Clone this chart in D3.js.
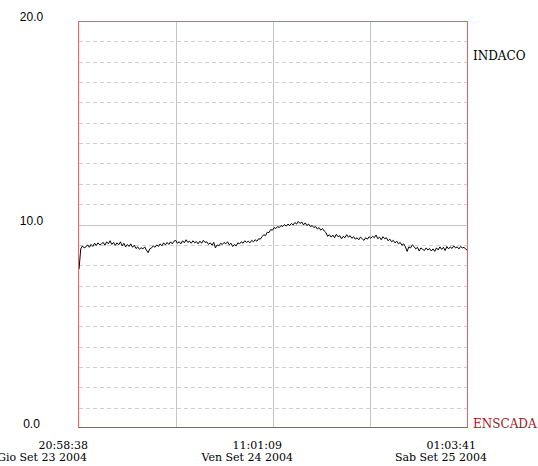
<!DOCTYPE html>
<html>
<head>
<meta charset="utf-8">
<script src="https://cdn.jsdelivr.net/npm/d3@7"></script>
<style>
  html, body { margin: 0; padding: 0; background: #fff; }
  svg { display: block; }
</style>
</head>
<body>
<div id="chart"></div>
<script>
// readings, one every 7.5 minutes from the start time
const startTime = "2004-09-23T20:58:38";
const endTime = "2004-09-25T01:03:41";
const stepSeconds = 450;
const readings = [
  7.8, 8.8, 8.95, 8.85, 8.9, 9.0, 8.88, 9.02, 8.92, 9.08,
  8.97, 9.1, 9.0, 9.05, 9.12, 8.98, 9.15, 9.05, 9.2, 9.02,
  9.12, 8.98, 9.1, 9.0, 9.15, 8.95, 9.08, 8.9, 9.02, 8.92,
  9.05, 8.88, 8.98, 8.82, 8.9, 8.78, 8.86, 8.8, 8.9, 8.75,
  8.62, 8.8, 8.85, 8.95, 8.88, 9.0, 8.92, 9.05, 8.95, 9.1,
  9.0, 9.12, 9.02, 9.15, 9.05, 9.18, 9.22, 9.08, 9.15, 9.05,
  9.2, 9.1, 9.25, 9.12, 9.18, 9.08, 9.2, 9.1, 9.16, 9.05,
  9.18, 9.08, 9.22, 9.12, 9.15, 9.02, 9.1, 8.98, 9.12, 8.85,
  9.0, 8.95, 9.08, 9.02, 9.12, 9.05, 9.15, 9.0, 9.08, 8.92,
  9.02, 8.95, 9.1, 9.05, 9.15, 9.08, 9.2, 9.12, 9.18, 9.1,
  9.22, 9.15, 9.25, 9.18, 9.3, 9.28, 9.4, 9.5, 9.45, 9.62,
  9.6, 9.75, 9.72, 9.85, 9.8, 9.9, 9.85, 9.95, 9.9, 10.0,
  9.92, 10.02, 9.95, 10.05, 9.98, 10.1, 10.02, 10.15, 10.05, 10.12,
  9.98, 10.08, 9.95, 10.02, 9.9, 9.95, 9.85, 9.9, 9.78, 9.85,
  9.72, 9.8, 9.68, 9.6, 9.42, 9.5, 9.38, 9.48, 9.35, 9.52,
  9.4, 9.45, 9.3, 9.42, 9.35, 9.5, 9.38, 9.45, 9.32, 9.4,
  9.28, 9.35, 9.25, 9.38, 9.3, 9.22, 9.35, 9.28, 9.4, 9.32,
  9.42, 9.35, 9.48, 9.3, 9.38, 9.25, 9.4, 9.3, 9.35, 9.2,
  9.28, 9.15, 9.22, 9.1, 9.18, 9.05, 9.12, 8.98, 9.05, 8.9,
  8.68, 8.9, 8.85, 9.0, 8.92, 8.8, 8.88, 8.7, 8.85, 8.78,
  8.72, 8.85, 8.75, 8.82, 8.7, 8.8, 8.68, 8.85, 8.75, 8.9,
  8.78, 8.88, 8.72, 8.92, 8.8, 8.9, 8.82, 8.95, 8.85, 8.9,
  8.8, 8.92, 8.85, 8.88, 8.78
];
const lastReading = 8.75;

const yTickValues = [0, 10, 20];
const yTickLabels = ["0.0", "10.0", "20.0"];
const xTickLabels = [
  ["20:58:38", "Gio Set 23 2004"],
  ["11:01:09", "Ven Set 24 2004"],
  ["01:03:41", "Sab Set 25 2004"]
];
const upperLabel = "INDACO";
const lowerLabel = "ENSCADA";

const parse = d3.timeParse("%Y-%m-%dT%H:%M:%S");
const t0 = parse(startTime), t1 = parse(endTime);
const series = readings.map((v, i) => ({ date: new Date(+t0 + i * stepSeconds * 1000), value: v }));
series.push({ date: t1, value: lastReading });

const W = 538, H = 466;
const margin = { top: 21, right: 71, bottom: 38, left: 79 };
const width = W - margin.left - margin.right;
const height = H - margin.top - margin.bottom;

const svg = d3.select("#chart").append("svg")
  .attr("width", W)
  .attr("height", H);

const chart = svg.append("g")
  .attr("transform", `translate(${margin.left},${margin.top})`);

const x = d3.scaleTime().domain([t0, t1]).range([0, width]);
const y = d3.scaleLinear().domain([0, 20]).range([height, 0]);

// dashed minor grid every unit
chart.append("g")
  .selectAll("line")
  .data(d3.range(1, 20).filter(v => v !== 10))
  .join("line")
  .attr("x1", 0).attr("x2", width)
  .attr("y1", d => Math.round(y(d)) + 0.5)
  .attr("y2", d => Math.round(y(d)) + 0.5)
  .attr("stroke", "#cfcfcf")
  .attr("stroke-dasharray", "4,3");

// solid line at 10
chart.append("line")
  .attr("x1", 0).attr("x2", width)
  .attr("y1", Math.round(y(10)) + 0.5)
  .attr("y2", Math.round(y(10)) + 0.5)
  .attr("stroke", "#c4c4c4");

// vertical grid at quarters of the time span
const quarterTicks = d3.range(1, 4).map(k => new Date(+t0 + (t1 - t0) * k / 4));
chart.append("g")
  .selectAll("line")
  .data(quarterTicks)
  .join("line")
  .attr("x1", d => Math.round(x(d)) + 0.5)
  .attr("x2", d => Math.round(x(d)) + 0.5)
  .attr("y1", 0).attr("y2", height)
  .attr("stroke", "#c4c4c4");

// data line
chart.append("path")
  .datum(series)
  .attr("fill", "none")
  .attr("stroke", "#000")
  .attr("stroke-width", 1)
  .attr("d", d3.line().x(d => x(d.date)).y(d => y(d.value)));

// frame
chart.append("rect")
  .attr("x", -0.5).attr("y", 0.5)
  .attr("width", width + 1).attr("height", height - 1)
  .attr("fill", "none")
  .attr("stroke", "#ff5a5a");
chart.append("line")
  .attr("x1", -0.5).attr("x2", width + 0.5)
  .attr("y1", height - 0.5).attr("y2", height - 0.5)
  .attr("stroke", "#c84848");

// y labels
chart.append("g")
  .selectAll("text")
  .data(yTickValues)
  .join("text")
  .attr("x", -47.5)
  .attr("y", d => y(d))
  .attr("text-anchor", "middle")
  .attr("font-family", "Liberation Sans, Arial, sans-serif")
  .attr("font-size", "12px")
  .attr("fill", "#000")
  .text((d, i) => yTickLabels[i]);

// x labels
const xLabelTimes = [t0, new Date((+t0 + +t1) / 2), t1];
const xl = chart.append("g")
  .attr("font-family", "DejaVu Serif, serif")
  .attr("font-size", "11px")
  .attr("fill", "#000");
xl.selectAll("text.time")
  .data(xLabelTimes)
  .join("text")
  .attr("class", "time")
  .attr("x", d => x(d) + 9)
  .attr("y", height + 21)
  .attr("text-anchor", "end")
  .text((d, i) => xTickLabels[i][0]);
xl.selectAll("text.day")
  .data(xLabelTimes)
  .join("text")
  .attr("class", "day")
  .attr("x", (d, i) => x(d) + (i === 0 ? 8 : 20))
  .attr("y", height + 33)
  .attr("text-anchor", "end")
  .text((d, i) => xTickLabels[i][1]);

// side labels
chart.append("text")
  .attr("x", width + 6)
  .attr("y", y(18.1))
  .attr("font-family", "DejaVu Serif, serif")
  .attr("font-size", "12px")
  .attr("fill", "#000")
  .text(upperLabel);
chart.append("text")
  .attr("x", width + 6)
  .attr("y", y(0))
  .attr("font-family", "DejaVu Serif, serif")
  .attr("font-size", "12px")
  .attr("fill", "#a01818")
  .text(lowerLabel);
</script>
</body>
</html>
